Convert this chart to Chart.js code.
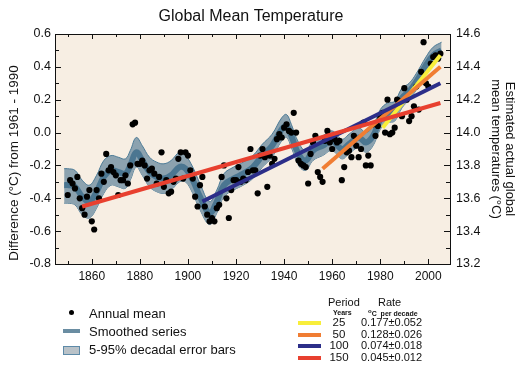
<!DOCTYPE html>
<html>
<head>
<meta charset="utf-8">
<script src="https://cdn.jsdelivr.net/npm/chart.js@4.4.1/dist/chart.umd.min.js"></script>
<style>
  body { margin: 0; background: #fff; }
  #wrap { position: relative; width: 525px; height: 371px; font-family: "Liberation Sans", Arial, sans-serif; color: #111; }
  #chart { position: absolute; left: 0; top: 0; }
</style>
</head>
<body>
<div id="wrap">
  <canvas id="chart" width="525" height="371"></canvas>
  <div id="legend"></div>
</div>
<script>
// Datos (anomalía respecto a 1961-1990, ºC)
const firstYear = 1850;
const annualMean = [
  -0.38, -0.29, -0.31, -0.34, -0.27, -0.40, -0.46, -0.50, -0.39, -0.35,
  -0.54, -0.59, -0.35, -0.40, -0.25, -0.30, -0.13, -0.23, -0.21, -0.24,
  -0.26, -0.38, -0.29, -0.29, -0.26, -0.31, -0.20, 0.05, 0.06, -0.19,
  -0.19, -0.17, -0.20, -0.28, -0.23, -0.22, -0.25, -0.31, -0.27, -0.12,
  -0.33, -0.29, -0.37, -0.36, -0.30, -0.28, -0.16, -0.12, -0.28, -0.12,
  -0.14, -0.23, -0.28, -0.39, -0.45, -0.32, -0.27, -0.45, -0.50, -0.54,
  -0.52, -0.54, -0.46, -0.44, -0.27, -0.20, -0.40, -0.52, -0.35, -0.29,
  -0.29, -0.21, -0.30, -0.28, -0.29, -0.24, -0.10, -0.23, -0.23, -0.37,
  -0.14, -0.10, -0.15, -0.33, -0.14, -0.19, -0.16, -0.04, -0.01, -0.03,
  0.03, 0.05, 0.01, 0.00, 0.12, 0.00, -0.17, -0.19, -0.20, -0.21,
  -0.31, -0.13, -0.06, -0.02, -0.24, -0.27, -0.30, -0.05, 0.01, -0.06,
  -0.10, -0.04, -0.06, -0.05, -0.29, -0.21, -0.12, -0.11, -0.15, -0.02,
  -0.08, -0.15, -0.10, 0.06, -0.20, -0.14, -0.20, 0.05, -0.02, 0.04,
  0.09, 0.12, 0.00, 0.20, -0.01, 0.00, 0.03, 0.20, 0.19, 0.10,
  0.27, 0.20, 0.07, 0.10, 0.16, 0.28, 0.14, 0.37, 0.55, 0.30,
  0.28, 0.42, 0.46, 0.47, 0.45, 0.48
];

// Serie suavizada y barras de error 5-95%
const smoothYears = [1848.5, 1850, 1853, 1856, 1859, 1862, 1865, 1868, 1871, 1874, 1876, 1878.5, 1881, 1884, 1887, 1890, 1893, 1896.5, 1899,
  1902, 1905, 1909, 1912, 1915, 1919, 1923, 1927, 1931, 1935, 1939, 1941, 1943, 1946, 1949, 1952, 1956, 1960, 1964, 1967,
  1971, 1974, 1977, 1980, 1983, 1986, 1989, 1992, 1995, 1999, 2002, 2005.5];
const smoothMean = [-0.32, -0.32, -0.33, -0.39, -0.42, -0.36, -0.27, -0.23, -0.24, -0.25, -0.20, -0.12, -0.17, -0.24, -0.27, -0.28, -0.26, -0.21, -0.22,
  -0.29, -0.39, -0.49, -0.42, -0.32, -0.28, -0.25, -0.21, -0.14, -0.08, 0.02, 0.04, -0.02, -0.13, -0.17, -0.11, -0.08, -0.05, -0.10, -0.07,
  -0.03, -0.06, -0.02, 0.08, 0.12, 0.13, 0.21, 0.25, 0.31, 0.41, 0.47, 0.50];
const bandLower = [-0.43, -0.43, -0.44, -0.50, -0.52, -0.46, -0.37, -0.32, -0.33, -0.34, -0.29, -0.21, -0.26, -0.33, -0.36, -0.37, -0.35, -0.30, -0.30,
  -0.37, -0.47, -0.56, -0.49, -0.39, -0.35, -0.32, -0.28, -0.21, -0.15, -0.05, -0.03, -0.09, -0.20, -0.23, -0.17, -0.14, -0.11, -0.16, -0.13,
  -0.09, -0.12, -0.08, 0.02, 0.06, 0.07, 0.15, 0.20, 0.26, 0.36, 0.42, 0.45];
const bandUpper = [-0.22, -0.22, -0.23, -0.29, -0.32, -0.26, -0.17, -0.14, -0.15, -0.16, -0.11, -0.03, -0.08, -0.15, -0.18, -0.19, -0.17, -0.12, -0.14,
  -0.21, -0.31, -0.42, -0.35, -0.25, -0.21, -0.18, -0.14, -0.07, -0.01, 0.09, 0.11, 0.05, -0.06, -0.11, -0.05, -0.02, 0.01, -0.04, -0.01,
  0.03, 0.00, 0.04, 0.14, 0.18, 0.19, 0.27, 0.30, 0.36, 0.46, 0.52, 0.55];

// Tendencias lineales
const trendPeriods = [25, 50, 100, 150];
const trendRates = ["0.177±0.052", "0.128±0.026", "0.074±0.018", "0.045±0.012"];
const trendStartYear = [1981, 1956, 1906, 1856];
const trendStartVal = [0.03, -0.22, -0.42, -0.45];
const trendEndYear = 2005;
const trendEndVal = [0.47, 0.40, 0.30, 0.18];
const trendColors = ["#f8ee3a", "#f07d33", "#2c2e89", "#e8402f"];

// Marcas de los ejes
const xMajor = [1860, 1880, 1900, 1920, 1940, 1960, 1980, 2000];
const xMinor = [1850, 1870, 1890, 1910, 1930, 1950, 1970, 1990];
const yMajor = [-0.8, -0.6, -0.4, -0.2, 0.0, 0.2, 0.4, 0.6];
const yMinor = [-0.7, -0.5, -0.3, -0.1, 0.1, 0.3, 0.5];
const y2Major = [13.2, 13.4, 13.6, 13.8, 14.0, 14.2, 14.4, 14.6];
const y2Minor = [13.3, 13.5, 13.7, 13.9, 14.1, 14.3, 14.5];

const bandColor = "#8ca2af";
const bandEdge = "#4c7b97";
const smoothColor = "#4b7691";
const plotBg = "#f7eee3";
const font = "'Liberation Sans', Arial, sans-serif";

// Fondo del área del gráfico
const plotBackground = {
  id: "plotBackground",
  beforeDraw(chart) {
    const { ctx, chartArea: a } = chart;
    ctx.save();
    ctx.fillStyle = plotBg;
    ctx.fillRect(a.left, a.top, a.right - a.left, a.bottom - a.top);
    ctx.restore();
  }
};

// Marcas hacia adentro en los cuatro lados
const innerTicks = {
  id: "innerTicks",
  afterDraw(chart) {
    const { ctx, chartArea: a, scales } = chart;
    ctx.save();
    ctx.strokeStyle = "#111";
    ctx.lineWidth = 1;
    const vert = (vals, len) => vals.forEach(v => {
      const px = Math.round(scales.x.getPixelForValue(v)) + 0.5;
      ctx.beginPath();
      ctx.moveTo(px, a.bottom); ctx.lineTo(px, a.bottom - len);
      ctx.moveTo(px, a.top); ctx.lineTo(px, a.top + len);
      ctx.stroke();
    });
    const hor = (scale, vals, len, side) => vals.forEach(v => {
      const py = Math.round(scale.getPixelForValue(v)) + 0.5;
      const x0 = side === "left" ? a.left : a.right;
      const d = side === "left" ? len : -len;
      ctx.beginPath();
      ctx.moveTo(x0, py); ctx.lineTo(x0 + d, py);
      ctx.stroke();
    });
    vert(xMajor, 5); vert(xMinor, 3);
    hor(scales.y, yMajor, 6, "left"); hor(scales.y, yMinor, 4, "left");
    hor(scales.y2, y2Major, 6, "right"); hor(scales.y2, y2Minor, 4, "right");
    ctx.restore();
  }
};

// Título y títulos de ejes
const chartTexts = {
  id: "chartTexts",
  afterDraw(chart) {
    const { ctx } = chart;
    ctx.save();
    ctx.fillStyle = "#111";
    ctx.textAlign = "center";
    ctx.textBaseline = "middle";
    ctx.font = "16px " + font;
    ctx.fillText("Global Mean Temperature", 251, 17);
    ctx.font = "13.5px " + font;
    ctx.translate(14, 163);
    ctx.rotate(-Math.PI / 2);
    ctx.fillText("Difference (°C) from 1961 - 1990", 0, 0);
    ctx.restore();
    ctx.save();
    ctx.fillStyle = "#111";
    ctx.textAlign = "center";
    ctx.textBaseline = "middle";
    ctx.font = "13px " + font;
    ctx.translate(510, 149);
    ctx.rotate(Math.PI / 2);
    ctx.fillText("Estimated actual global", 0, 0);
    ctx.fillText("mean temperatures (°C)", 0, 14);
    ctx.restore();
  }
};

const toXY = (xs, ys) => ys.map((v, i) => ({ x: xs[i], y: v }));

const datasets = [];
trendPeriods.forEach((p, i) => {
  datasets.push({
    type: "line",
    label: p + " years",
    data: [{ x: trendStartYear[i], y: trendStartVal[i] }, { x: trendEndYear, y: trendEndVal[i] }],
    borderColor: trendColors[i],
    borderWidth: 4,
    pointRadius: 0,
    order: 1 + (3 - i) * 0.1
  });
});
datasets.push({
  type: "scatter",
  label: "Annual mean",
  data: annualMean.map((v, i) => ({ x: firstYear + i, y: v })),
  backgroundColor: "#000",
  borderWidth: 0,
  pointRadius: 3.1,
  order: 2
});
datasets.push({
  type: "line",
  label: "Smoothed series",
  data: toXY(smoothYears, smoothMean),
  borderColor: smoothColor,
  borderWidth: 6,
  pointRadius: 0,
  tension: 0.4,
  order: 3
});
datasets.push({
  type: "line",
  label: "upper",
  data: toXY(smoothYears, bandUpper),
  borderColor: bandEdge,
  borderWidth: 1,
  backgroundColor: bandColor,
  fill: "+1",
  pointRadius: 0,
  tension: 0.4,
  order: 4
});
datasets.push({
  type: "line",
  label: "lower",
  data: toXY(smoothYears, bandLower),
  borderColor: bandEdge,
  borderWidth: 1,
  pointRadius: 0,
  tension: 0.4,
  order: 4
});

const fixTicks = vals => scale => { scale.ticks = vals.map(v => ({ value: v })); };

new Chart(document.getElementById("chart"), {
  type: "scatter",
  data: { datasets },
  options: {
    responsive: false,
    animation: false,
    layout: { padding: { top: 34, bottom: 85, left: 0, right: 0 } },
    plugins: { legend: { display: false }, tooltip: { enabled: false } },
    scales: {
      x: {
        type: "linear", position: "bottom", min: 1844.7, max: 2009,
        afterBuildTicks: fixTicks(xMajor),
        afterFit: s => { s.height = 22; },
        grid: { display: false, drawTicks: false },
        border: { display: true, color: "#111", width: 1 },
        ticks: { color: "#111", padding: 5, maxRotation: 0, font: { family: font, size: 12 }, callback: v => String(v) }
      },
      x2: {
        type: "linear", position: "top", min: 1844.7, max: 2009,
        afterFit: s => { s.height = 0; },
        grid: { display: false, drawTicks: false },
        border: { display: true, color: "#111", width: 1 },
        ticks: { display: false }
      },
      y: {
        type: "linear", position: "left", min: -0.8, max: 0.6,
        afterBuildTicks: fixTicks(yMajor),
        afterFit: s => { s.width = 55; },
        grid: { display: false, drawTicks: false },
        border: { display: true, color: "#111", width: 1 },
        ticks: { color: "#111", padding: 4, font: { family: font, size: 12.5 }, callback: v => v.toFixed(1) }
      },
      y2: {
        type: "linear", position: "right", min: 13.2, max: 14.6,
        afterBuildTicks: fixTicks(y2Major),
        afterFit: s => { s.width = 75; },
        grid: { display: false, drawTicks: false },
        border: { display: true, color: "#111", width: 1 },
        ticks: { color: "#111", padding: 6, font: { family: font, size: 12.5 }, callback: v => v.toFixed(1) }
      }
    }
  },
  plugins: [plotBackground, innerTicks, chartTexts]
});

// Leyenda inferior (HTML)
const legend = document.getElementById("legend");
const add = (html, css) => { const d = document.createElement("div"); d.innerHTML = html; d.style.cssText = "position:absolute;white-space:nowrap;line-height:1;" + css; legend.appendChild(d); };
add("", "left:69px;top:310px;width:5px;height:5px;border-radius:50%;background:#000");
add("Annual mean", "left:89px;top:307px;font-size:13px");
add("", "left:63px;top:329px;width:17px;height:4px;background:#6a8da2");
add("Smoothed series", "left:89px;top:325px;font-size:13px");
add("", "left:63px;top:346px;width:15px;height:7px;background:#b9c2c8;border:1px solid #5d8aa8");
add("5-95% decadal error bars", "left:89px;top:343px;font-size:13px");
add("Period", "left:328px;top:297px;font-size:11px");
add("Rate", "left:378px;top:297px;font-size:11px");
add("Years", "left:333px;top:309px;font-size:7px;font-weight:bold");
add("<sup style='font-size:6px'>o</sup>C&nbsp; per decade", "left:368px;top:308px;font-size:7px;font-weight:bold");
trendPeriods.forEach((p, i) => {
  const y = 323 + i * 11.7;
  add("", `left:298px;top:${y - 2}px;width:23px;height:4px;background:${trendColors[i]}`);
  add(String(p), `left:325px;top:${y - 6}px;width:28px;text-align:center;font-size:11.5px`);
  add(trendRates[i], `left:361px;top:${y - 6}px;font-size:11px`);
});
</script>
</body>
</html>
